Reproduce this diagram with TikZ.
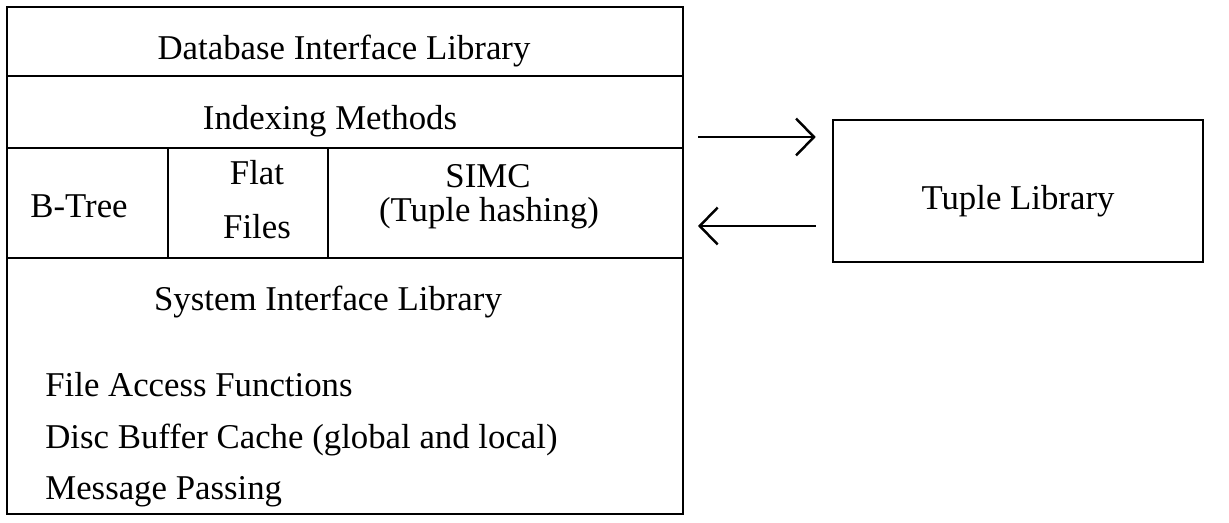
\documentclass[tikz,border=0pt]{standalone}
\usepackage{fontspec}
\setmainfont{Liberation Serif}
\usetikzlibrary{arrows.meta}
\begin{document}
\begin{tikzpicture}[x=0.02cm,y=-0.02cm,
  every node/.style={font=\fontsize{19.8}{22}\selectfont,inner sep=0pt},
  lbl/.style={anchor=base},
  item/.style={anchor=base west},
  arr/.style={line width=1.4pt,-{Straight Barb[length=0.36cm,width=0.74cm]}}]
\useasboundingbox (0,0) rectangle (1229,523);
% layered library stack
\draw[line width=1.5pt] (7,7) rectangle (683,514);
\draw[line width=1.5pt] (7,76) -- (683,76);
\draw[line width=1.5pt] (7,148) -- (683,148);
\draw[line width=1.5pt] (7,258) -- (683,258);
\draw[line width=1.5pt] (168,148) -- (168,258);
\draw[line width=1.5pt] (328,148) -- (328,258);
\node[lbl] (dbi) at (344,60) {Database Interface Library};
\node[lbl] (idx) at (330,130) {Indexing Methods};
\node[lbl] (btree) at (79,218) {B-Tree};
\node[lbl] (flat) at (257,185) {Flat};
\node[lbl] (files) at (257,239) {Files};
\node[lbl] (simc) at (488,188) {SIMC};
\node[lbl] (hash) at (489,222) {(Tuple hashing)};
\node[lbl] (sil) at (328,310) {System Interface Library};
\node[item] (faf) at (45,396) {File Access Functions};
\node[item] (dbc) at (45,448) {Disc Buffer Cache (global and local)};
\node[item] (msg) at (45,499) {Message Passing};
% tuple library
\node[draw,line width=1.5pt,minimum width=7.4cm,minimum height=2.84cm] (tuple) at (1018,191) {};
\node[lbl] (tlib) at (1018,210) {Tuple Library};
\coordinate (outA) at (698,137);
\coordinate (inB) at (698,226);
\draw[arr,shorten >=0.32cm] (outA) -- (tuple.west |- outA);
\draw[arr,shorten <=0.32cm] (tuple.west |- inB) -- (inB);
\end{tikzpicture}
\end{document}
